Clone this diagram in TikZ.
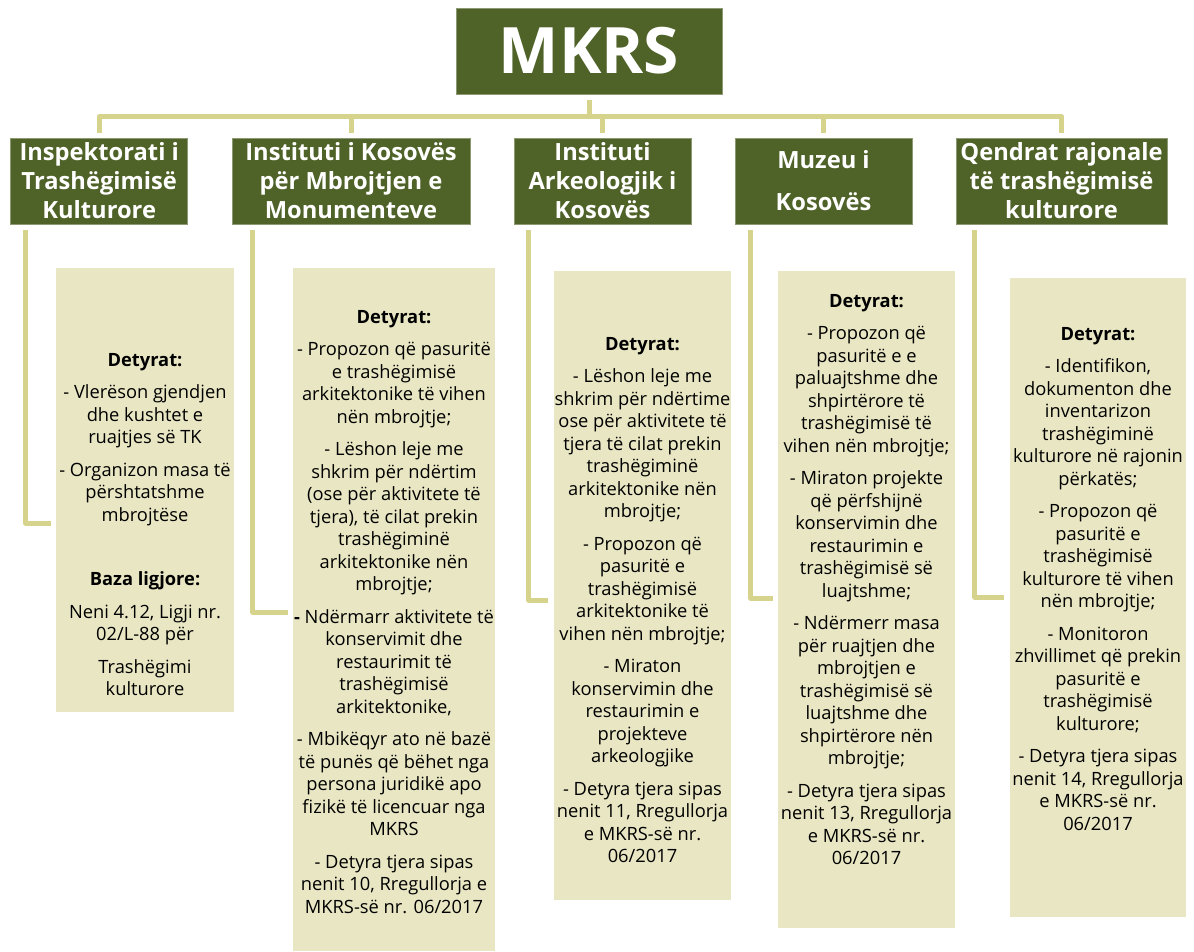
\documentclass[tikz,border=0pt]{standalone}
\usepackage{fontspec}
\setmainfont{Open Sans}
\usepackage{xcolor}
\usepackage{tikz}

\definecolor{mkgreen}{HTML}{4F6228}
\definecolor{mkline}{HTML}{D6D38C}
\definecolor{mkfill}{HTML}{E9E7C3}
\newcommand{\detgap}{\\[10pt]}

\tikzset{
  headbox/.style={fill=mkgreen, draw=mkgreen!65!white, line width=0.6pt, text=white,
    font=\fontsize{23.7}{29}\selectfont\bfseries, align=center, inner sep=0pt, minimum height=86pt},
  detbox/.style={fill=mkfill, inner sep=0pt},
  dettext/.style={align=center, anchor=north, inner sep=0pt, font=\fontsize{18.3}{22.5}\selectfont},
  conn/.style={draw=mkline, line width=5pt, line join=round}
}

\begin{document}
\begin{tikzpicture}[x=1pt, y=-1pt]
    \useasboundingbox (0,0) rectangle (1194,951);

    % Draw the top box
    \node[headbox, minimum width=266pt, font=\fontsize{64}{70}\selectfont\bfseries] (mkrs) at (589,51) {MKRS};

    % Draw the five institution boxes
    \node[headbox, minimum width=177pt] (ins) at (99.2,181) {Inspektorati i\\Trashëgimisë\\Kulturore};
    \node[headbox, minimum width=238pt] (ikmm) at (351,181) {Instituti i Kosovës\\për Mbrojtjen e\\Monumenteve};
    \node[headbox, minimum width=177pt] (ark) at (602.5,181) {Instituti\\Arkeologjik i\\Kosovës};
    \node[headbox, minimum width=177pt] (muz) at (823.5,181) {Muzeu i\\[13pt]Kosovës};
    \node[headbox, minimum width=211pt] (qen) at (1061.5,181) {Qendrat rajonale\\të trashëgimisë\\kulturore};

    % Draw the task boxes
    \node[detbox, minimum width=178pt, minimum height=444pt] (insdet) at (145,490) {};
    \node[detbox, minimum width=202pt, minimum height=683pt] (ikmmdet) at (394,609.5) {};
    \node[detbox, minimum width=177pt, minimum height=629pt] (arkdet) at (642.5,585.5) {};
    \node[detbox, minimum width=177pt, minimum height=657pt] (muzdet) at (866.5,599.5) {};
    \node[detbox, minimum width=176pt, minimum height=639pt] (qendet) at (1098,597.5) {};

    % Texts of the task boxes
    \node[dettext] (instxt) at ([yshift=-85pt]insdet.north) {\textbf{Detyrat:}\detgap
      - Vlerëson gjendjen\\dhe kushtet e\\ruajtjes së TK\detgap
      - Organizon masa të\\përshtatshme\\mbrojtëse\\[42pt]
      \textbf{Baza ligjore:}\detgap
      Neni 4.12, Ligji nr.\\02/L-88 për\detgap
      Trashëgimi\\kulturore};
    \node[dettext] (ikmmtxt) at ([yshift=-42pt]ikmmdet.north) {\textbf{Detyrat:}\detgap
      - Propozon që pasuritë\\e trashëgimisë\\arkitektonike të vihen\\nën mbrojtje;\detgap
      - Lëshon leje me\\shkrim për ndërtim\\(ose për aktivitete të\\tjera), të cilat prekin\\trashëgiminë\\arkitektonike nën\\mbrojtje;\detgap
      \textbf{-} Ndërmarr aktivitete të\\konservimit dhe\\restaurimit të\\trashëgimisë\\arkitektonike,\detgap
      - Mbikëqyr ato në bazë\\të punës që bëhet nga\\persona juridikë apo\\fizikë të licencuar nga\\MKRS\detgap
      - Detyra tjera sipas\\nenit 10, Rregullorja e\\MKRS-së nr. 06/2017};
    \node[dettext] (arktxt) at ([yshift=-66pt]arkdet.north) {\textbf{Detyrat:}\detgap
      - Lëshon leje me\\shkrim për ndërtime\\ose për aktivitete të\\tjera të cilat prekin\\trashëgiminë\\arkitektonike nën\\mbrojtje;\detgap
      - Propozon që\\pasuritë e\\trashëgimisë\\arkitektonike të\\vihen nën mbrojtje;\detgap
      - Miraton\\konservimin dhe\\restaurimin e\\projekteve\\arkeologjike\detgap
      - Detyra tjera sipas\\nenit 11, Rregullorja\\e MKRS-së nr.\\06/2017};
    \node[dettext] (muztxt) at ([yshift=-23pt]muzdet.north) {\textbf{Detyrat:}\detgap
      - Propozon që\\pasuritë e e\\paluajtshme dhe\\shpirtërore të\\trashëgimisë të\\vihen nën mbrojtje;\detgap
      - Miraton projekte\\që përfshijnë\\konservimin dhe\\restaurimin e\\trashëgimisë së\\luajtshme;\detgap
      - Ndërmerr masa\\për ruajtjen dhe\\mbrojtjen e\\trashëgimisë së\\luajtshme dhe\\shpirtërore nën\\mbrojtje;\detgap
      - Detyra tjera sipas\\nenit 13, Rregullorja\\e MKRS-së nr.\\06/2017};
    \node[dettext] (qentxt) at ([yshift=-49pt]qendet.north) {\textbf{Detyrat:}\detgap
      - Identifikon,\\dokumenton dhe\\inventarizon\\trashëgiminë\\kulturore në rajonin\\përkatës;\detgap
      - Propozon që\\pasuritë e\\trashëgimisë\\kulturore të vihen\\nën mbrojtje;\detgap
      - Monitoron\\zhvillimet që prekin\\pasuritë e\\trashëgimisë\\kulturore;\detgap
      - Detyra tjera sipas\\nenit 14, Rregullorja\\e MKRS-së nr.\\06/2017};

    % Draw the connectors from the top box
    \draw[conn] ([yshift=-6pt]mkrs.south) -- ([yshift=-23pt]mkrs.south);
    \draw[conn] ([yshift=5pt]ins.north) |- ([yshift=21pt]qen.north) -- ([yshift=5pt]qen.north);
    \draw[conn] ([yshift=5pt]ikmm.north) -- ([yshift=21pt]ikmm.north);
    \draw[conn] ([yshift=5pt]ark.north) -- ([yshift=21pt]ark.north);
    \draw[conn] ([yshift=5pt]muz.north) -- ([yshift=21pt]muz.north);

    % Draw the connectors to the task boxes
    \coordinate (e1) at (51,523);
    \coordinate (e2) at (288,612);
    \coordinate (e3) at (548,600);
    \coordinate (e4) at (773,598);
    \coordinate (e5) at (1004,597);
    \draw[conn] ([xshift=15pt,yshift=-6pt]ins.south west) |- (e1);
    \draw[conn] ([xshift=21pt,yshift=-6pt]ikmm.south west) |- (e2);
    \draw[conn] ([xshift=15pt,yshift=-6pt]ark.south west) |- (e3);
    \draw[conn] ([xshift=16pt,yshift=-6pt]muz.south west) |- (e4);
    \draw[conn] ([xshift=19pt,yshift=-6pt]qen.south west) |- (e5);
\end{tikzpicture}
\end{document}
